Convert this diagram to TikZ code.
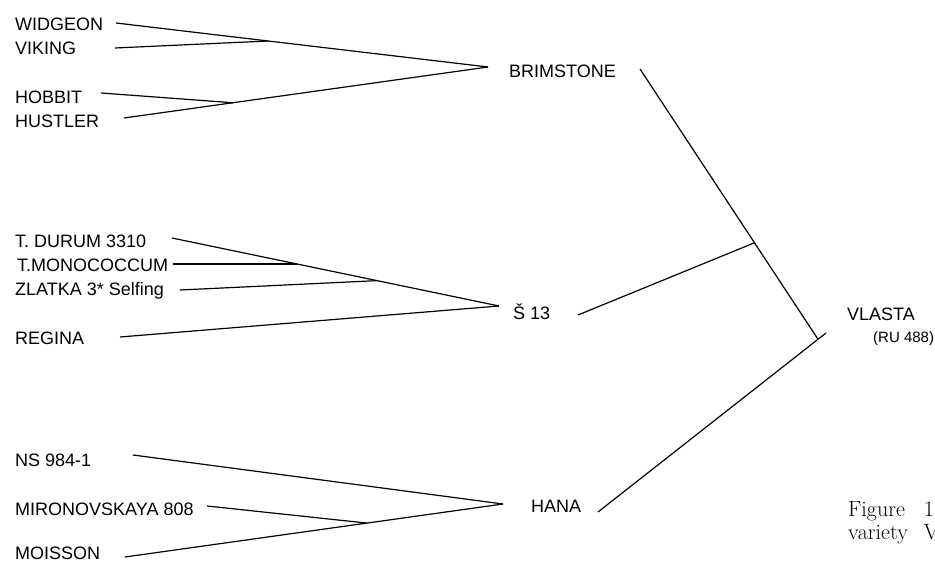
\documentclass[tikz,border=0pt]{standalone}
\usepackage{fontspec}
\newfontfamily\labelfont{Liberation Sans}
\usetikzlibrary{calc}

\begin{document}
\begin{tikzpicture}[x=1pt,y=-1pt,
  lbl/.style={font=\labelfont\fontsize{18}{20}\selectfont, inner sep=0pt, anchor=base west},
  small/.style={font=\labelfont\fontsize{15}{17}\selectfont, inner sep=0pt, anchor=base west},
  capt/.style={font=\fontsize{22}{24}\selectfont, inner sep=0pt, anchor=base west},
  link/.style={line width=1.2pt}]
\useasboundingbox (0,0) rectangle (935,561);
\clip (0,0) rectangle (935,561);

% ---- parent varieties ----
\node[lbl] (widgeon) at (15,30.7)  {WIDGEON};
\node[lbl] (viking)  at (15,55)    {VIKING};
\node[lbl] (hobbit)  at (15,104)   {HOBBIT};
\node[lbl] (hustler) at (15,128)   {HUSTLER};
\node[lbl] (durum)   at (15,248)   {T. DURUM 3310};
\node[lbl] (mono)    at (17,271.5) {T.MONOCOCCUM};
\node[lbl] (zlatka)  at (15,296)   {ZLATKA 3* Selfing};
\node[lbl] (regina)  at (15,345)   {REGINA};
\node[lbl] (ns)      at (15,466)   {NS 984-1};
\node[lbl] (miron)   at (15,515)   {MIRONOVSKAYA 808};
\node[lbl] (moisson) at (15,559.5) {MOISSON};

% ---- intermediate and final varieties ----
\node[lbl] (brim)   at (509,78)  {BRIMSTONE};
\node[lbl] (s13)    at (513,320) {Š 13};
\node[lbl] (hana)   at (531,512) {HANA};
\node[lbl] (vlasta) at (847,320.5) {VLASTA};
\node[small] (ru)   at (873,343) {(RU 488)};

% ---- caption ----
\node[capt] (fig)     at (848,516.5) {Figure\hspace{19pt}1};
\node[capt] (variety) at (848,539.5) {variety\hspace{16pt}V};

% ---- connector end points ----
\coordinate (widgeon-e) at (116,23);
\coordinate (viking-e)  at (115,48);
\coordinate (hobbit-e)  at (101,93);
\coordinate (hustler-e) at (124,118);
\coordinate (durum-e)   at (172,238);
\coordinate (mono-e)    at (173,264);
\coordinate (zlatka-e)  at (180,290);
\coordinate (regina-e)  at (120,337);
\coordinate (ns-e)      at (133,455);
\coordinate (miron-e)   at (207,506);
\coordinate (moisson-e) at (125,557);

\coordinate (brim-in) at (488,67);
\coordinate (s13-in)  at (499,306);
\coordinate (hana-in) at (503,504);

\coordinate (brim-out) at (640,69);
\coordinate (s13-out)  at (578,315);
\coordinate (hana-out) at (598,512);

\coordinate (vlasta-tip) at (826,333);
\coordinate (vlasta-j)   at ($(hana-out)!0.965!(vlasta-tip)$);

% junctions on the crossing lines
\coordinate (wv-j)  at ($(widgeon-e)!0.409!(brim-in)$);
\coordinate (hh-j)  at ($(hustler-e)!0.299!(brim-in)$);
\coordinate (mono-j) at (297,264);
\coordinate (zl-j)  at ($(durum-e)!0.627!(s13-in)$);
\coordinate (mm-j)  at ($(moisson-e)!0.640!(hana-in)$);
\coordinate (s13-j) at ($(brim-out)!0.643!(vlasta-j)$);

% ---- pedigree lines ----
\draw[link] (widgeon-e) -- (brim-in);
\draw[link] (viking-e)  -- (wv-j);
\draw[link] (hustler-e) -- (brim-in);
\draw[link] (hobbit-e)  -- (hh-j);

\draw[link] (durum-e)  -- (s13-in);
\draw[link] (mono-e)   -- (mono-j);
\draw[link] (zlatka-e) -- (zl-j);
\draw[link] (regina-e) -- (s13-in);

\draw[link] (ns-e)      -- (hana-in);
\draw[link] (moisson-e) -- (hana-in);
\draw[link] (miron-e)   -- (mm-j);

\draw[link] (brim-out) -- (vlasta-j);
\draw[link] (s13-out)  -- (s13-j);
\draw[link] (hana-out) -- (vlasta-tip);
\end{tikzpicture}
\end{document}
